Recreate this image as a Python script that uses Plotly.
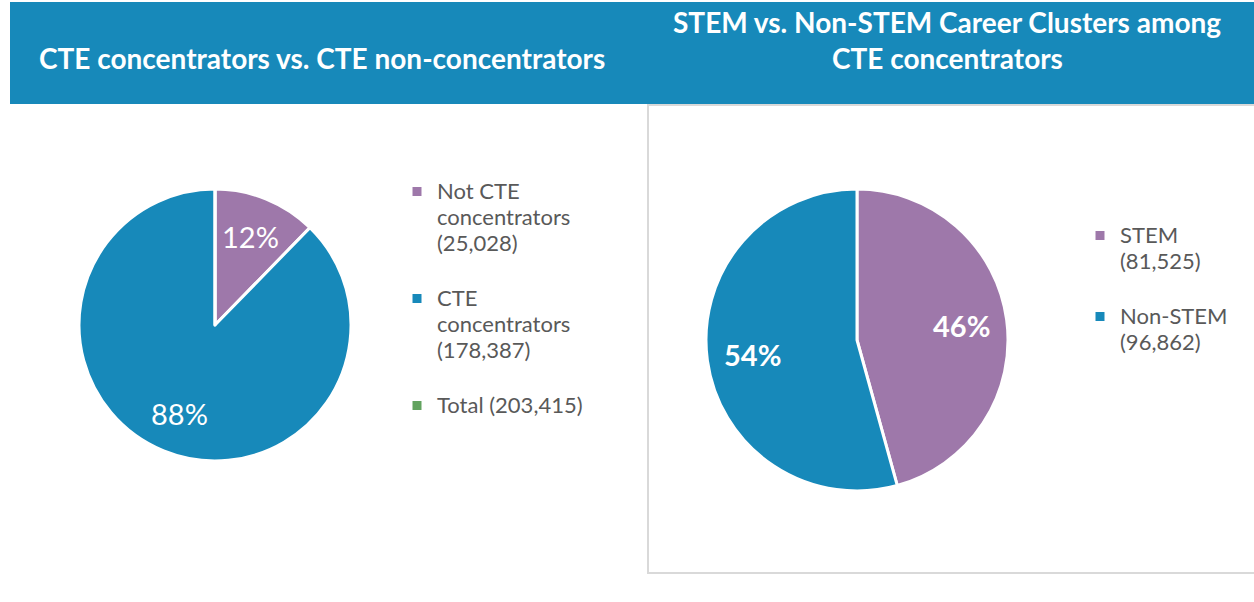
import math
import plotly.graph_objects as go

# ---- data ----
left_label_lines = [["Not CTE", "concentrators", "(25,028)"],
                    ["CTE", "concentrators", "(178,387)"],
                    ["Total (203,415)"]]
left_values = [25028, 178387, 0]
left_colors = ["#9E78AA", "#1789BA", "#62A35F"]

right_label_lines = [["STEM", "(81,525)"], ["Non-STEM", "(96,862)"]]
right_values = [81525, 96862]
right_colors = ["#9E78AA", "#1789BA"]

left_title = "CTE concentrators vs. CTE non-concentrators"
right_title_lines = ["STEM vs. Non-STEM Career Clusters among", "CTE concentrators"]

W, H = 1254, 602
BLUE = "#1789BA"
FONT = "Lato"

# pie geometry (pixels)
L_CX, L_CY, L_R = 215, 325, 136
R_CX, R_CY, R_R = 857, 340, 151


def dom(cx, cy, r):
    return dict(x=[(cx - r) / W, (cx + r) / W], y=[(H - cy - r) / H, (H - cy + r) / H])


def legend_label(lines, last):
    body = "<br>".join(f"<span style='font-size:22px'>{ln}</span>" for ln in lines)
    return body if last else body + "<br> "


def make_labels(groups):
    return [legend_label(g, i == len(groups) - 1 and len(g) == 1) for i, g in enumerate(groups)]


def pct_annotations(values, cx, cy, r, bold, size):
    total = sum(values)
    out = []
    cum = 0.0
    for v in values:
        if v <= 0:
            continue
        frac = v / total
        mid = (cum + frac / 2) * 2 * math.pi
        cum += frac
        px = cx + 0.7 * r * math.sin(mid)
        py = cy - 0.7 * r * math.cos(mid)
        txt = f"{round(frac * 100)}%"
        if bold:
            txt = f"<b>{txt}</b>"
        out.append(dict(text=txt, x=px / W, y=(H - py) / H, xref="paper", yref="paper",
                        showarrow=False, xanchor="center", yanchor="middle",
                        font=dict(family=FONT, size=size, color="white")))
    return out


fig = go.Figure()

fig.add_trace(go.Pie(
    labels=make_labels(left_label_lines), values=left_values,
    marker=dict(colors=left_colors, line=dict(color="white", width=3)),
    sort=False, direction="clockwise", rotation=0,
    textinfo="none",
    domain=dom(L_CX, L_CY, L_R),
    legend="legend", hoverinfo="value+percent",
))

fig.add_trace(go.Pie(
    labels=make_labels(right_label_lines), values=right_values,
    marker=dict(colors=right_colors, line=dict(color="white", width=3)),
    sort=False, direction="clockwise", rotation=0,
    textinfo="none",
    domain=dom(R_CX, R_CY, R_R),
    legend="legend2", hoverinfo="value+percent",
))

legend_common = dict(
    font=dict(family=FONT, size=20, color="#595959"),
    valign="top", xanchor="left", yanchor="top",
    bgcolor="rgba(0,0,0,0)", traceorder="normal",
)

shapes = [
    dict(type="rect", xref="paper", yref="paper",
         x0=10 / W, x1=1.0, y0=(H - 104) / H, y1=(H - 2) / H,
         fillcolor=BLUE, line=dict(width=0), layer="below"),
    dict(type="rect", xref="paper", yref="paper",
         x0=648 / W, x1=1.01, y0=(H - 573) / H, y1=(H - 105) / H,
         fillcolor="rgba(0,0,0,0)", line=dict(color="#D9D9D9", width=2), layer="below"),
]

annotations = [
    dict(text=f"<b>{left_title}</b>", x=322 / W, y=(H - 58) / H, xref="paper", yref="paper",
         showarrow=False, xanchor="center", yanchor="middle",
         font=dict(family=FONT, size=28, color="white")),
]
for i, line in enumerate(right_title_lines):
    annotations.append(dict(text=f"<b>{line}</b>", x=947 / W, y=(H - 22 - 36 * i) / H,
                            xref="paper", yref="paper", showarrow=False,
                            xanchor="center", yanchor="middle",
                            font=dict(family=FONT, size=28, color="white")))

annotations += pct_annotations(left_values, L_CX, L_CY, L_R, False, 29)
annotations += pct_annotations(right_values, R_CX, R_CY, R_R, True, 29)

fig.update_layout(
    width=W, height=H, margin=dict(l=0, r=0, t=0, b=0),
    paper_bgcolor="white", plot_bgcolor="white",
    showlegend=True,
    legend=dict(x=397 / W, y=(H - 172) / H, **legend_common),
    legend2=dict(x=1080 / W, y=(H - 216) / H, **legend_common),
    shapes=shapes, annotations=annotations,
)

fig.write_html("out.html", config={"displayModeBar": False},
               post_script="document.body.style.margin='0';")
